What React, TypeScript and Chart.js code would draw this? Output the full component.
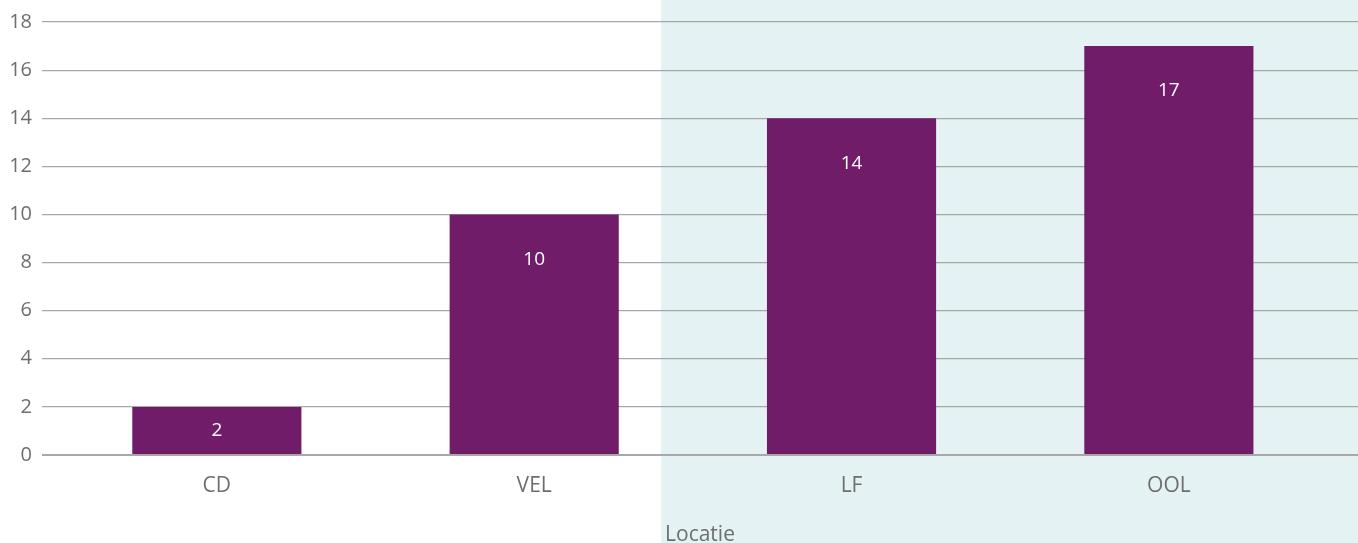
import React, { useEffect, useRef } from "react";
import { Chart, registerables } from "chart.js";

Chart.register(...registerables);

const categories = ["CD", "VEL", "LF", "OOL"];
const values = [2, 10, 14, 17];
const yTicks = [0, 2, 4, 6, 8, 10, 12, 14, 16, 18];
const xTitle = "Locatie";
const highlightFrom = 1.4; // x-value where shaded band starts
const xMin = -0.551;
const xMax = 3.596;

const BAR = "#701c68";
const BAND = "#e4f2f3";
const TEXT = "#6e6e6e";
const GRID = "#a8a8a8";
const FONT = "'Open Sans', 'DejaVu Sans', sans-serif";

const bandPlugin = {
  id: "band",
  beforeDraw(chart: any) {
    const { ctx } = chart;
    const x = chart.scales.x.getPixelForValue(highlightFrom);
    ctx.save();
    ctx.fillStyle = BAND;
    ctx.fillRect(x, 0, chart.width - x, chart.height);
    ctx.restore();
  },
};

const labelPlugin = {
  id: "barLabels",
  afterDatasetsDraw(chart: any) {
    const { ctx } = chart;
    const meta = chart.getDatasetMeta(0);
    ctx.save();
    ctx.fillStyle = "#ffffff";
    ctx.font = `19px ${FONT}`;
    ctx.textAlign = "center";
    ctx.textBaseline = "middle";
    meta.data.forEach((bar: any, i: number) => {
      const top = bar.y;
      const bottom = bar.base;
      const y = Math.min(top + 45, (top + bottom) / 2);
      ctx.fillText(String(values[i]), bar.x, y);
    });
    ctx.restore();
  },
};

export default function App() {
  const ref = useRef<HTMLCanvasElement>(null);
  useEffect(() => {
    document.body.style.margin = "0";
    const chart = new Chart(ref.current!, {
      type: "bar",
      data: {
        datasets: [
          {
            data: values.map((v, i) => ({ x: i, y: v })),
            backgroundColor: BAR,
            categoryPercentage: 1,
            barPercentage: 0.533,
          },
        ],
      },
      options: {
        animation: false,
        responsive: false,
        maintainAspectRatio: false,
        layout: { padding: { top: 19, right: 0, left: 0, bottom: 0 } },
        plugins: { legend: { display: false }, tooltip: { enabled: false } },
        scales: {
          x: {
            type: "linear",
            min: xMin,
            max: xMax,
            offset: false,
            grid: { display: false, drawTicks: false },
            border: { display: false },
            afterFit: (s: any) => {
              s.height = 88;
            },
            ticks: {
              stepSize: 1,
              includeBounds: false,
              autoSkip: false,
              maxRotation: 0,
              padding: 18,
              color: TEXT,
              font: { family: FONT, size: 21 },
              callback: (v: any) =>
                Number.isInteger(v) && categories[v] !== undefined ? categories[v] : "",
            },
            title: {
              display: true,
              text: xTitle,
              color: TEXT,
              font: { family: FONT, size: 21 },
              padding: { top: 0, bottom: -5 },
            },
          },
          y: {
            min: 0,
            max: 18,
            afterBuildTicks: (s: any) => {
              s.ticks = yTicks.map((v) => ({ value: v }));
            },
            afterFit: (s: any) => {
              s.width = 42;
            },
            grid: {
              color: GRID,
              lineWidth: (c: any) => (c.tick && c.tick.value === 0 ? 2 : 1.2),
              drawTicks: false,
            },
            border: { display: false },
            ticks: {
              padding: 10,
              color: TEXT,
              font: { family: FONT, size: 20 },
            },
          },
        },
      },
      plugins: [bandPlugin, labelPlugin],
    });
    return () => chart.destroy();
  }, []);
  return (
    <div style={{ width: 1358, height: 543 }}>
      <canvas ref={ref} width={1358} height={543} style={{ width: 1358, height: 543 }} />
    </div>
  );
}
